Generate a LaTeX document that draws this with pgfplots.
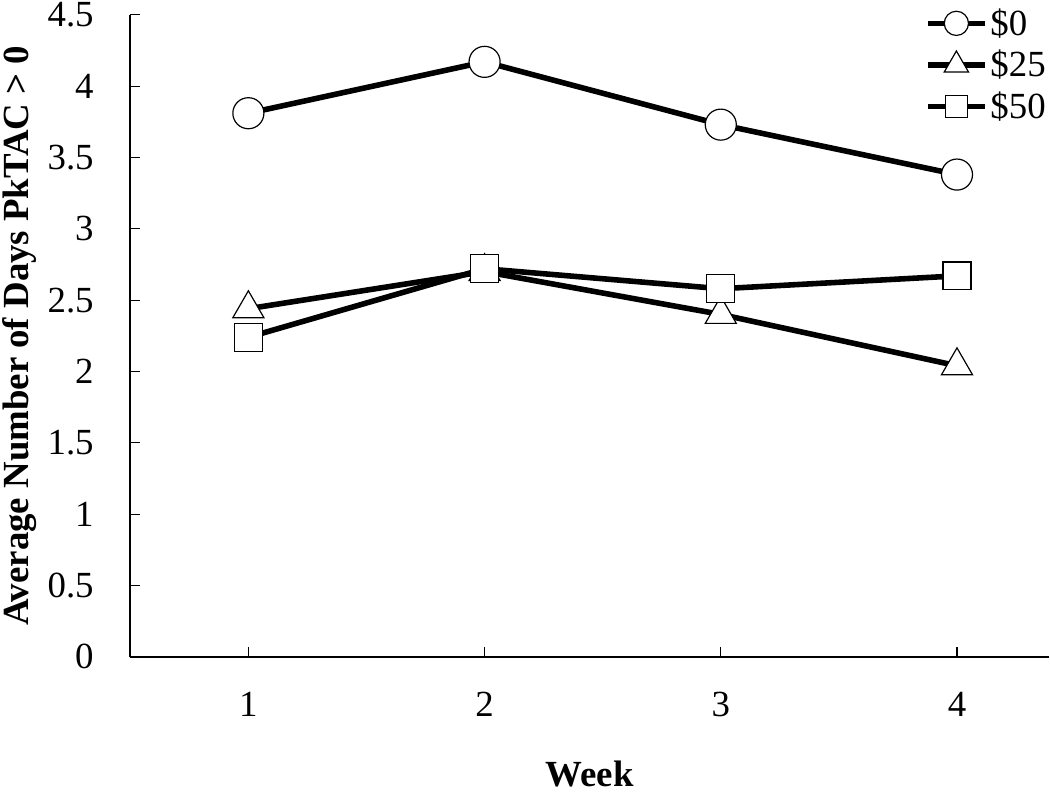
\documentclass[border=0pt]{standalone}
\usepackage{pgfplots}
\pgfplotsset{compat=1.18}
\usepackage{fontspec}
\setmainfont{Liberation Serif}
\begin{document}
\begin{tikzpicture}
\begin{axis}[
  scale only axis,
  width=461.5pt, height=322.5pt,
  xmin=0.5, xmax=4.39, ymin=0, ymax=4.5,
  axis x line=bottom, axis y line=left,
  axis line style={-, line width=0.9pt},
  xtick={1,2,3,4}, ytick={0,0.5,...,4.5},
  yticklabels={0,0.5,1,1.5,2,2.5,3,3.5,4,4.5},
  tick align=inside, major tick length=5pt,
  tick style={line width=0.6pt, black},
  /pgf/number format/assume math mode=true,
  tick label style={font=\fontsize{18.5}{20}\selectfont},
  yticklabel style={xshift=-17pt, inner sep=1.2pt},
  xticklabel style={yshift=-14pt},
  xlabel={\textbf{Week}},
  ylabel={\textbf{Average Number of Days PkTAC > 0}},
  label style={font=\fontsize{18.5}{20}\selectfont},
  xlabel style={yshift=-16pt, inner sep=3pt},
  ylabel style={yshift=3pt, inner sep=1.2pt},
  legend style={draw=none, fill=none, at={(1,1.015)}, anchor=north east,
    inner sep=0pt, font=\fontsize{18.5}{20}\selectfont, row sep=3pt,
    nodes={inner sep=1.5pt}},
  legend cell align=left,
  legend image code/.code={
    \draw[mark repeat=2,mark phase=2,#1,every mark/.append style={scale=0.78}] plot coordinates {(0cm,0cm) (0.5cm,0cm) (1cm,0cm)};
  },
  every axis plot/.append style={line width=2.8pt, black},
]
\addplot[mark=*, mark size=7.8pt, mark options={line width=0.6pt, fill=white, solid}] coordinates {(1,3.81) (2,4.17) (3,3.73) (4,3.38)};
\addlegendentry{\$0}
\addplot[mark=triangle*, mark size=9pt, mark options={line width=0.6pt, fill=white, solid}] coordinates {(1,2.44) (2,2.70) (3,2.40) (4,2.04)};
\addlegendentry{\$25}
\addplot[mark=square*, mark size=7pt, mark options={line width=0.6pt, fill=white, solid}] coordinates {(1,2.24) (2,2.72) (3,2.58) (4,2.67)};
\addlegendentry{\$50}
\end{axis}
\end{tikzpicture}
\end{document}
